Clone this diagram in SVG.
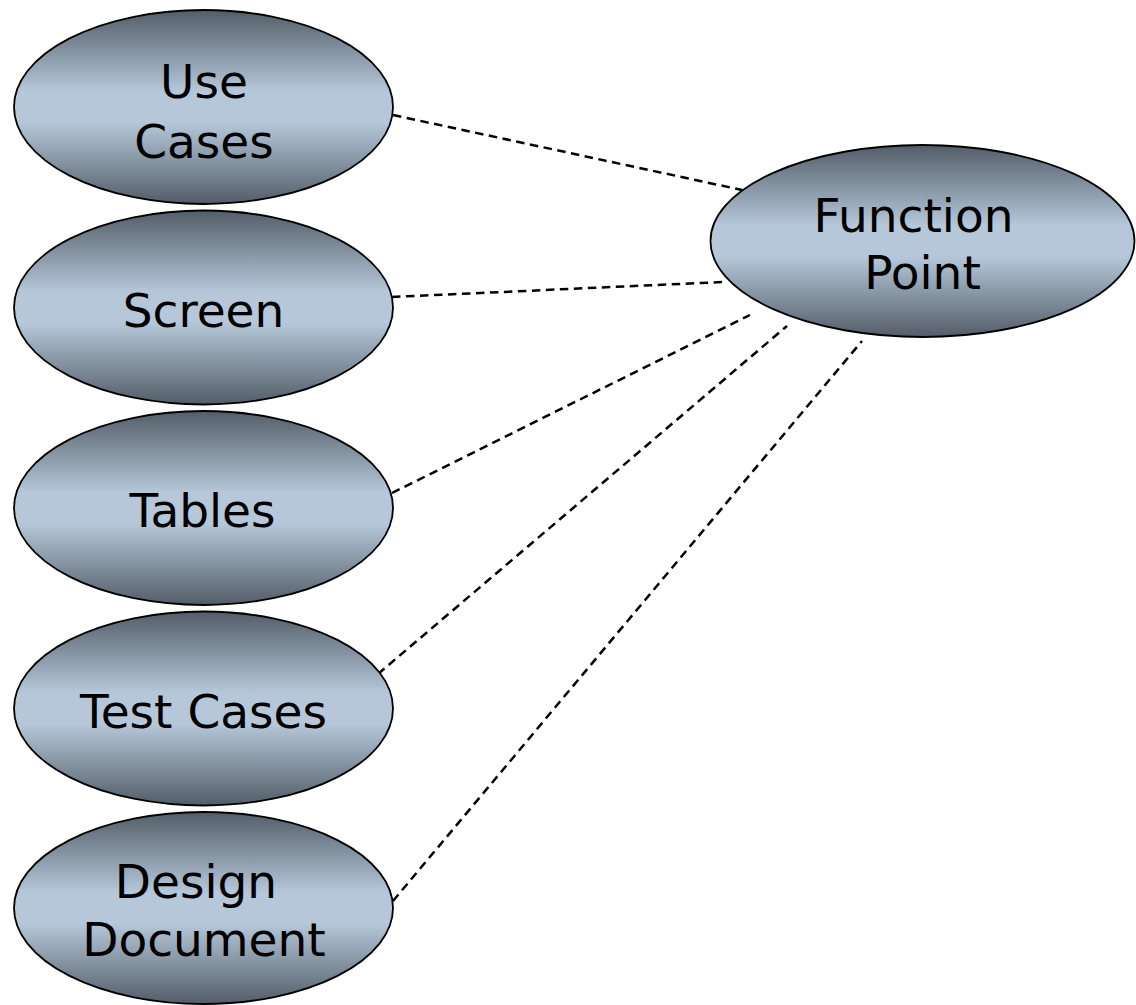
<svg xmlns="http://www.w3.org/2000/svg" width="1136" height="1005" viewBox="0 0 1136 1005">
  <defs>
    <linearGradient id="shade" x1="0" y1="0" x2="0" y2="1">
      <stop offset="0" stop-color="#535d68"/>
      <stop offset="0.42" stop-color="#b5c7d9"/>
      <stop offset="0.58" stop-color="#b5c7d9"/>
      <stop offset="1" stop-color="#535d68"/>
    </linearGradient>
  </defs>
  <style>
    .node ellipse { fill: url(#shade); stroke: #000; stroke-width: 1.8; }
    .node text { font-family: "DejaVu Sans", Verdana, sans-serif; font-size: 47px; fill: #000; text-anchor: middle; }
    .link { fill: none; stroke: #000; stroke-width: 2.5; stroke-dasharray: 8.5 5.5; }
  </style>
  <rect width="1136" height="1005" fill="#fff"/>

  <g id="connectors">
    <line class="link" x1="393" y1="115" x2="742" y2="190"/>
    <line class="link" x1="392" y1="297" x2="722" y2="282"/>
    <line class="link" x1="392" y1="493" x2="750" y2="315"/>
    <line class="link" x1="378" y1="674" x2="787" y2="326"/>
    <line class="link" x1="393" y1="901" x2="862" y2="341"/>
  </g>

  <g id="use-cases" class="node">
    <ellipse cx="203.5" cy="107" rx="189.5" ry="97"/>
    <text x="204" y="98">Use</text>
    <text x="204" y="157.5">Cases</text>
  </g>

  <g id="screen" class="node">
    <ellipse cx="203.5" cy="307.5" rx="189.5" ry="97"/>
    <text x="203.5" y="326.5">Screen</text>
  </g>

  <g id="tables" class="node">
    <ellipse cx="203.5" cy="508" rx="189.5" ry="97"/>
    <text x="202.5" y="526.5">Tables</text>
  </g>

  <g id="test-cases" class="node">
    <ellipse cx="203.5" cy="708.5" rx="189.5" ry="97"/>
    <text x="203.5" y="728">Test Cases</text>
  </g>

  <g id="design-document" class="node">
    <ellipse cx="203.5" cy="908" rx="189.5" ry="96"/>
    <text x="196" y="898">Design</text>
    <text x="204" y="956">Document</text>
  </g>

  <g id="function-point" class="node">
    <ellipse cx="922.5" cy="241" rx="212" ry="96"/>
    <text x="913.5" y="231.5">Function</text>
    <text x="922.5" y="288.5">Point</text>
  </g>
</svg>
